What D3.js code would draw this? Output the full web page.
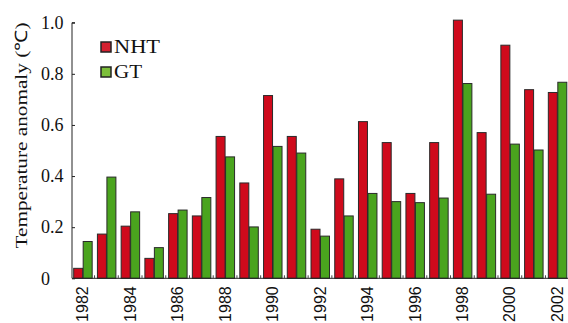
<!DOCTYPE html>
<html><head><meta charset="utf-8">
<script src="https://cdn.jsdelivr.net/npm/d3@7"></script>
<style>body{margin:0;background:#fff}svg{display:block}</style>
</head><body>
<svg id="c" width="568" height="323"></svg>
<script>
const years = [1982,1983,1984,1985,1986,1987,1988,1989,1990,1991,1992,1993,1994,1995,1996,1997,1998,1999,2000,2001,2002];
const nht = [0.039,0.173,0.204,0.078,0.253,0.244,0.555,0.373,0.715,0.555,0.192,0.389,0.613,0.531,0.332,0.531,1.01,0.57,0.912,0.738,0.727];
const gt  = [0.144,0.396,0.26,0.12,0.267,0.316,0.475,0.201,0.516,0.49,0.165,0.244,0.332,0.30,0.296,0.314,0.762,0.329,0.525,0.502,0.767];
const seriesNames = ["NHT","GT"];
const yTicks = [0,0.2,0.4,0.6,0.8,1.0];
const xTickYears = [1982,1984,1986,1988,1990,1992,1994,1996,1998,2000,2002];
const barColors = ["#cf0a1c","#4aa41e"];
const legendColors = ["#d42030","#7cbf3a"];

const svg = d3.select("#c");
const x0 = 72, x1 = 568, yBase = 278.3, yTop = 22.7;
const x = d3.scaleBand().domain(years).range([x0, x1]).paddingInner(0.2).paddingOuter(0.05);
const xs = d3.scaleBand().domain(seriesNames).range([0, x.bandwidth()]);
const y = d3.scaleLinear().domain([0,1]).range([yBase, yTop]);

const rows = years.map((yr,i)=>({year:yr, vals:[{k:"NHT",v:nht[i]},{k:"GT",v:gt[i]}]}));
const g = svg.append("g");
g.selectAll("g.grp").data(rows).join("g").attr("class","grp")
  .attr("transform", d=>`translate(${x(d.year)},0)`)
  .selectAll("rect").data(d=>d.vals).join("rect")
  .attr("x", d=>xs(d.k)+0.5).attr("width", xs.bandwidth()-0.5)
  .attr("y", d=>y(d.v)).attr("height", d=>yBase-y(d.v))
  .attr("fill", (d,i)=>barColors[i]).attr("stroke","#2a2a2a").attr("stroke-width",1);

// y axis
const yAxis = d3.axisRight(y).tickValues(yTicks).tickSize(3).tickFormat(d=> d===0 ? "0" : d3.format(".1f")(d));
const ya = svg.append("g").attr("transform",`translate(${x0},0)`).call(yAxis);
ya.select(".domain").attr("stroke","#222").attr("d",`M3,${yTop}H0V${yBase}`);
ya.selectAll(".tick line").attr("stroke","#222");
ya.selectAll(".tick text").attr("x",-31).attr("text-anchor","start")
  .attr("font-family","'Liberation Serif', 'Times New Roman', serif").attr("font-size",18).attr("fill","#111");

// x axis
const xAxis = d3.axisBottom(x).tickValues(xTickYears).tickSize(0).tickFormat(d3.format("d"));
const xa = svg.append("g").attr("transform",`translate(0,${yBase})`).call(xAxis);
xa.select(".domain").attr("stroke","#222").attr("d",`M${x0},0H${x1}`);
xa.selectAll(".tick text")
  .attr("transform","translate(0,8) rotate(-90)")
  .attr("x",0).attr("y",0).attr("dy","0.35em")
  .attr("text-anchor","end")
  .attr("font-family","'Liberation Sans', Arial, sans-serif").attr("font-size",16).attr("fill","#111");
// small separators between groups
xa.selectAll("line.sep").data(years.slice(1)).join("line").attr("class","sep")
  .attr("x1",d=>x(d)-x.step()*x.paddingInner()/2).attr("x2",d=>x(d)-x.step()*x.paddingInner()/2)
  .attr("y1",0).attr("y2",-3).attr("stroke","#444").attr("stroke-width",1);

// y title
svg.append("text").attr("transform",`translate(27,${(22+249)/2}) rotate(-90)`)
  .attr("text-anchor","middle").attr("font-family","'Liberation Serif', 'Times New Roman', serif")
  .attr("font-size",17).attr("fill","#111")
  .attr("textLength",226).attr("lengthAdjust","spacingAndGlyphs")
  .text("Temperature anomaly (℃)");

// legend
const legendLens = [46, 28];
const leg = svg.append("g").selectAll("g").data(seriesNames).join("g")
  .attr("transform",(d,i)=>`translate(101,${42+i*25})`);
leg.append("rect").attr("width",10).attr("height",10)
  .attr("fill",(d,i)=>legendColors[i]).attr("stroke","#222").attr("stroke-width",1.5);
leg.append("text").attr("x",13).attr("y",10.5).text(d=>d)
  .attr("textLength",(d,i)=>legendLens[i]).attr("lengthAdjust","spacingAndGlyphs")
  .attr("font-family","'Liberation Serif', 'Times New Roman', serif").attr("font-size",18).attr("fill","#111");
</script>
</body></html>
